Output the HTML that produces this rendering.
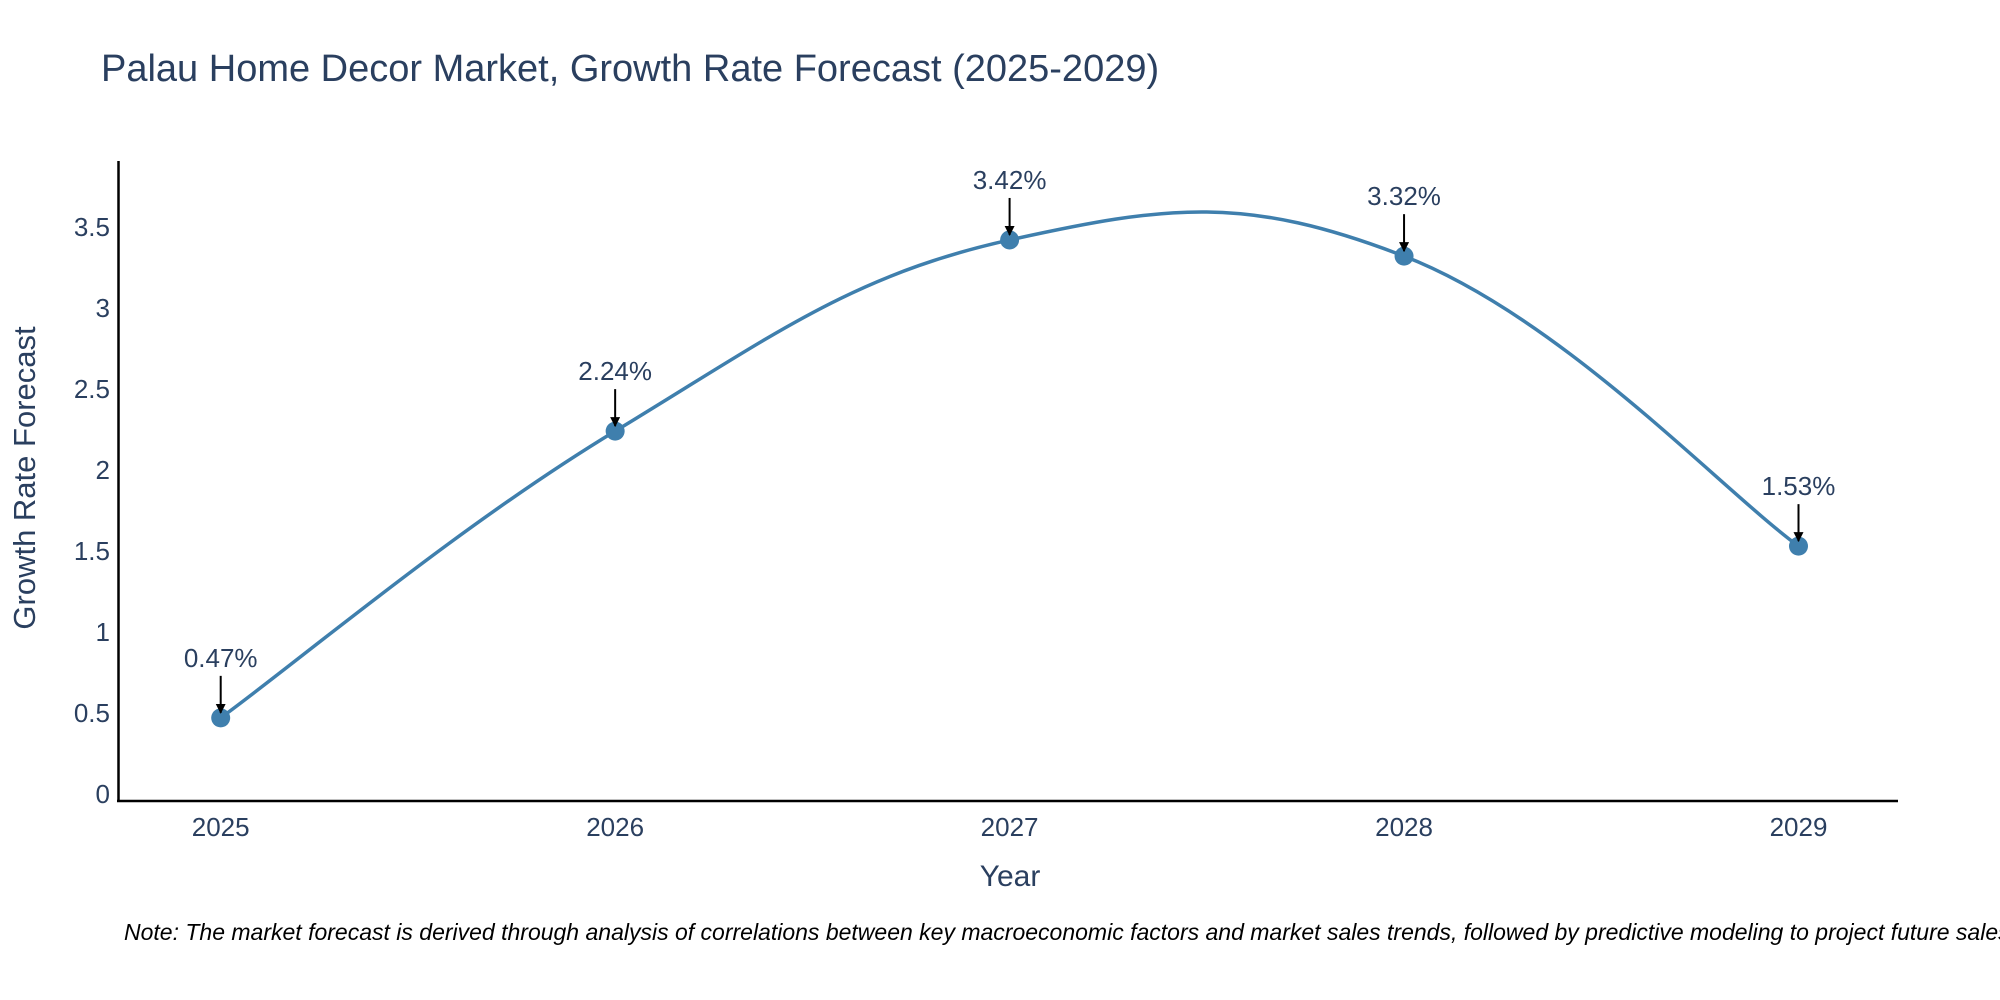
<!DOCTYPE html>
<html><head><meta charset="utf-8"><style>
body{margin:0;background:#fff;}
svg{display:block;font-family:"Liberation Sans",sans-serif;}
</style></head><body>
<svg id="chart" width="2000" height="1000">
<defs><marker id="ah" viewBox="0 0 10 10" refX="9" refY="5" markerWidth="5" markerHeight="5" orient="auto"><path d="M0,0 L10,5 L0,10 z" fill="#000"/></marker></defs>
<text x="101" y="81" font-size="38" fill="#2a3f5f">Palau Home Decor Market, Growth Rate Forecast (2025-2029)</text>
<g id="yticks"></g><g id="xticks"></g>
<line x1="118.5" y1="161" x2="118.5" y2="802" stroke="#000" stroke-width="2.5"/>
<line x1="117" y1="801" x2="1898" y2="801" stroke="#000" stroke-width="2.5"/>
<text transform="translate(35,478) rotate(-90)" text-anchor="middle" font-size="31" fill="#2a3f5f">Growth Rate Forecast</text>
<text x="1010" y="886" text-anchor="middle" font-size="30" fill="#2a3f5f">Year</text>
<path id="line" fill="none" stroke="#3f7fad" stroke-width="3.5"/>
<g id="marks"></g>
<text x="124" y="940" font-size="23" font-style="italic" fill="#000">Note: The market forecast is derived through analysis of correlations between key macroeconomic factors and market sales trends, followed by predictive modeling to project future sales.</text>
</svg>
<script>
const years = [2025, 2026, 2027, 2028, 2029];
const values = [0.47, 2.24, 3.42, 3.32, 1.53];
const yTicks = [0, 0.5, 1, 1.5, 2, 2.5, 3, 3.5];
const yTickLabels = ["0", "0.5", "1", "1.5", "2", "2.5", "3", "3.5"];
const NS = "http://www.w3.org/2000/svg";
function xs(v){return 220.7 + (v-2025)*(1798.5-220.7)/4;}
function ys(v){return 794 - v*162;}
function mk(tag, attrs, parent, txt){const e=document.createElementNS(NS,tag);for(const k in attrs)e.setAttribute(k,attrs[k]);if(txt!==undefined)e.textContent=txt;parent.appendChild(e);return e;}
const yg=document.getElementById('yticks'), xg=document.getElementById('xticks'), mg=document.getElementById('marks');
yTicks.forEach((t,i)=>{
  const e=mk('text',{x:110,y:ys(t)+9,'text-anchor':'end','font-size':26,fill:'#2a3f5f'},yg,yTickLabels[i]);
  
  
});
years.forEach(y=>{
  const e=mk('text',{x:xs(y),y:836,'text-anchor':'middle','font-size':26,fill:'#2a3f5f'},xg,String(y));
  
  
});
const P=years.map((y,i)=>[xs(y),ys(values[i])]);
let d=`M${P[0][0]},${P[0][1]}`;
const s=0.2;
for(let i=0;i<P.length-1;i++){
  const p0=P[Math.max(0,i-1)],p1=P[i],p2=P[i+1],p3=P[Math.min(P.length-1,i+2)];
  const c1=[p1[0]+(p2[0]-p0[0])*s, p1[1]+(p2[1]-p0[1])*s];
  const c2=[p2[0]-(p3[0]-p1[0])*s, p2[1]-(p3[1]-p1[1])*s];
  d+=` C${c1[0]},${c1[1]} ${c2[0]},${c2[1]} ${p2[0]},${p2[1]}`;
}
document.getElementById('line').setAttribute('d',d);
P.forEach((p,i)=>{
  const c=mk('circle',{cx:p[0],cy:p[1],r:9.5,fill:'#3f7fad'},mg);
  
  
  const a=mk('line',{x1:p[0],y1:p[1]-42,x2:p[0],y2:p[1]-5,stroke:'#000','stroke-width':2,'marker-end':'url(#ah)'},mg);
  
  
  const t=mk('text',{x:p[0],y:p[1]-51,'text-anchor':'middle','font-size':26,fill:'#2a3f5f'},mg,values[i].toFixed(2)+'%');
  
  
});
</script>
</body></html>
